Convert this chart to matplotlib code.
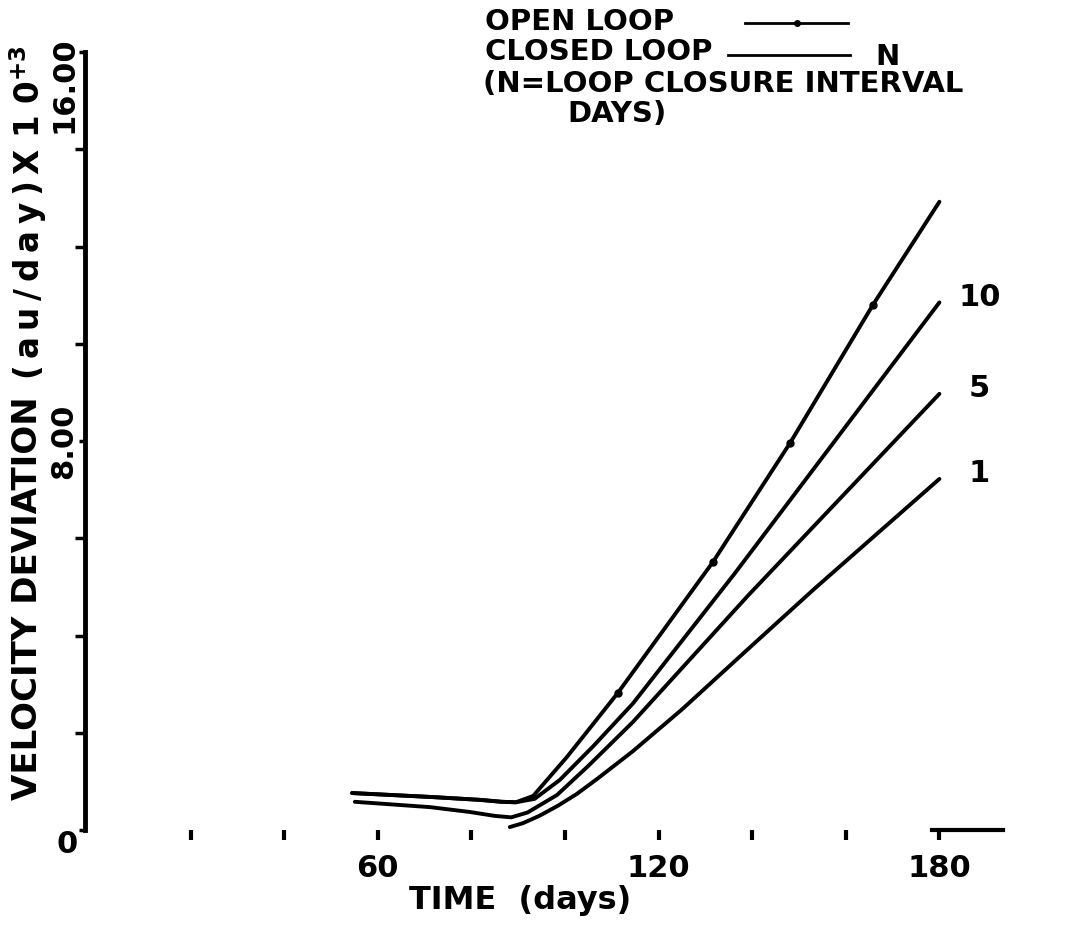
import matplotlib
matplotlib.use("Agg")
import matplotlib.pyplot as plt
from matplotlib.lines import Line2D
from matplotlib.transforms import ScaledTranslation

plt.rcParams['font.family'] = ['DejaVu Sans']
plt.rcParams['font.weight'] = 'bold'
plt.rcParams['mathtext.fontset'] = 'dejavusans'

# ---- data ----
open_days = [54.5, 71.2, 81.8, 86.5, 89.5, 93.2, 100.4, 111.3, 131.6, 148.1, 165.8, 180.0]
open_vel = [0.76, 0.68, 0.62, 0.58, 0.57, 0.70, 1.50, 2.82, 5.51, 7.96, 10.80, 12.92]
open_marked = [7, 8, 9, 10]

n10_days = [54.5, 71.2, 81.8, 86.5, 89.5, 93.5, 98.9, 106.0, 114.5, 136.3, 180.0]
n10_vel = [0.76, 0.68, 0.62, 0.58, 0.57, 0.64, 1.03, 1.72, 2.60, 5.28, 10.85]

n5_days = [55.1, 71.2, 79.7, 85.0, 88.5, 92.0, 98.3, 105.0, 114.5, 139.1, 180.0]
n5_vel = [0.58, 0.47, 0.37, 0.29, 0.26, 0.36, 0.72, 1.32, 2.22, 4.82, 8.97]

n1_days = [88.2, 91.0, 94.5, 98.5, 102.5, 107.0, 114.5, 125.0, 139.1, 153.4, 180.0]
n1_vel = [0.06, 0.14, 0.29, 0.50, 0.74, 1.06, 1.62, 2.48, 3.72, 4.97, 7.22]

curve_labels = ['10', '5', '1']

x_major = [60, 120, 180]
x_major_labels = ['60', '120', '180']
x_minor = [20, 40, 80, 100, 140, 160]
y_major = [0, 8, 16]
y_major_labels = ['0', '8.00', '16.00']
y_minor = [2, 4, 6, 10, 12, 14]

W, H = 1083, 935
fig = plt.figure(figsize=(W / 100, H / 100), dpi=100)
ax = fig.add_axes([85 / W, (H - 830) / H, (1009.6 - 85) / W, 778 / H])
ax.set_xlim(-2.56, 195)
ax.set_ylim(0, 16)

lw = 2.8
kw = dict(color='black', lw=lw, clip_on=False, solid_capstyle='round', solid_joinstyle='round')
ax.plot(open_days, open_vel, marker='o', ms=5, markevery=open_marked, **kw)
ax.plot(n10_days, n10_vel, **kw)
ax.plot(n5_days, n5_vel, **kw)
ax.plot(n1_days, n1_vel, **kw)

for lab, d, v in zip(curve_labels, [n10_days, n5_days, n1_days], [n10_vel, n5_vel, n1_vel]):
    ax.annotate(lab, (d[-1], v[-1]), xytext=(40, 5), textcoords='offset pixels',
                ha='center', va='center', fontsize=22, fontweight='bold')

# spines
for s in ['top', 'right']:
    ax.spines[s].set_visible(False)
ax.spines['left'].set_linewidth(3.5)
ax.spines['bottom'].set_linewidth(3.0)
ax.spines['bottom'].set_bounds(178.5, 193.5)

ax.set_xticks(x_major)
ax.set_xticklabels(x_major_labels, fontsize=22, fontweight='bold')
ax.set_xticks(x_minor, minor=True)
ax.tick_params(axis='x', which='both', direction='out', length=7, width=3, pad=10)

ax.set_yticks(y_major)
ax.set_yticklabels(y_major_labels, fontsize=22, fontweight='bold')
ax.set_yticks(y_minor, minor=True)
ax.tick_params(axis='y', which='major', direction='out', length=4, width=2.5, pad=1)
ax.tick_params(axis='y', which='minor', direction='out', length=7, width=2.5)

ylabs = ax.get_yticklabels()
ylabs[0].set_verticalalignment('top')
ylabs[1].set_rotation(90)
ylabs[1].set_verticalalignment('center')
ylabs[2].set_rotation(90)
ylabs[2].set_verticalalignment('center')
ylabs[2].set_transform(ylabs[2].get_transform() +
                       ScaledTranslation(0, -0.33, fig.dpi_scale_trans))

# axis titles
fig.text(28 / W, 1 - 800 / H, 'VELOCITY DEVIATION',
         rotation=90, ha='center', va='bottom', fontsize=24.5, fontweight='bold')
fig.text(28 / W, 1 - 380 / H,
         '(\u2009a\u2009u\u2009/\u2009d\u2009a\u2009y\u2009)\u2009X 1 0$^{\\mathbf{+3}}$',
         rotation=90, ha='center', va='bottom', fontsize=23.5, fontweight='bold')
fig.text(520 / W, 1 - 900 / H, 'TIME  (days)', ha='center', va='center',
         fontsize=23, fontweight='bold')

# legend block (drawn as in the reference)
fs_leg = 21
fig.text(485 / W, 1 - 8 / H, 'OPEN LOOP', ha='left', va='top', fontsize=fs_leg, fontweight='bold')
fig.text(485 / W, 1 - 38 / H, 'CLOSED LOOP', ha='left', va='top', fontsize=fs_leg, fontweight='bold')
fig.text(875 / W, 1 - 43 / H, 'N', ha='left', va='top', fontsize=fs_leg, fontweight='bold')
fig.text(483 / W, 1 - 70 / H, '(N=LOOP CLOSURE INTERVAL', ha='left', va='top', fontsize=fs_leg, fontweight='bold')
fig.text(567 / W, 1 - 100 / H, 'DAYS)', ha='left', va='top', fontsize=fs_leg, fontweight='bold')
fig.add_artist(Line2D([745 / W, 848 / W], [1 - 23 / H, 1 - 23 / H], color='black', lw=2,
                      transform=fig.transFigure))
fig.add_artist(Line2D([797 / W], [1 - 23 / H], color='black', marker='o', ms=4,
                      transform=fig.transFigure))
fig.add_artist(Line2D([728 / W, 850 / W], [1 - 55 / H, 1 - 55 / H], color='black', lw=2,
                      transform=fig.transFigure))

fig.savefig('out.png', dpi=100, facecolor='white')
